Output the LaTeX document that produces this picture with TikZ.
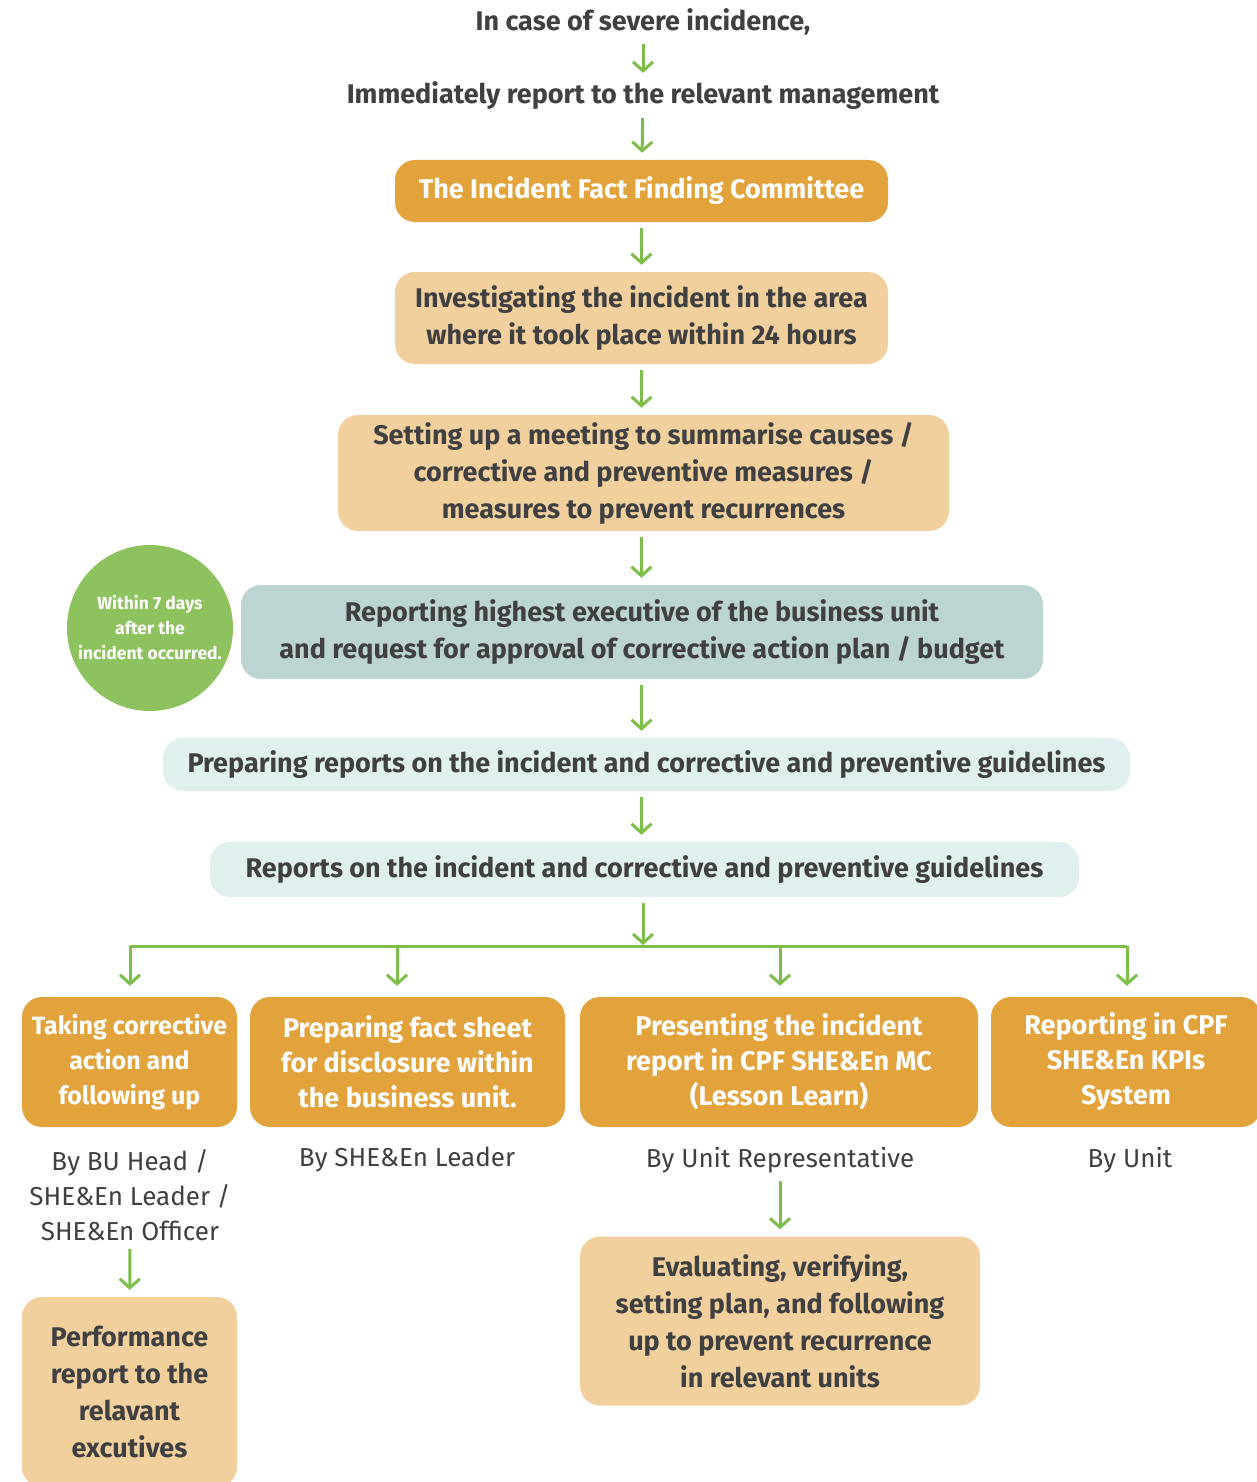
\documentclass[tikz,border=0pt]{standalone}
\usepackage{fontspec}
\setmainfont{Fira Sans}
\usetikzlibrary{arrows.meta,positioning}
\definecolor{BoxOrange}{RGB}{227,163,60}
\definecolor{BoxSand}{RGB}{242,208,158}
\definecolor{BoxSlate}{RGB}{188,212,210}
\definecolor{BoxMist}{RGB}{224,240,238}
\definecolor{LeafGreen}{RGB}{142,194,94}
\definecolor{ArrowGreen}{RGB}{125,190,74}
\definecolor{InkGray}{RGB}{64,64,66}

\begin{document}
\begin{tikzpicture}[x=1pt,y=-1pt,
  box/.style={rectangle,rounded corners=20pt,align=center,inner sep=0pt,font=\fontsize{27}{37}\selectfont\bfseries,text=InkGray},
  hot/.style={box,fill=BoxOrange,text=white},
  task/.style={hot,minimum height=130,font=\fontsize{27}{35}\selectfont\bfseries},
  sand/.style={box,fill=BoxSand},
  slate/.style={box,fill=BoxSlate},
  mist/.style={box,fill=BoxMist},
  head/.style={font=\fontsize{27}{37}\selectfont\bfseries,text=InkGray,align=center,inner sep=2pt},
  note/.style={font=\fontsize{26}{35}\selectfont,text=InkGray,align=center,inner sep=2pt},
  arr/.style={-{Straight Barb[length=9pt,width=20pt]},line width=3pt,draw=ArrowGreen,shorten <=6pt,shorten >=7pt}
]
  \useasboundingbox (0,0) rectangle (1256,1482);
  \fill[white] (0,0) rectangle (1256,1482);

  % main column
  \node[head] (incase) at (643,22) {In case of severe incidence,};
  \node[head] (immed) at (643,96) {Immediately report to the relevant management};
  \node[hot,minimum width=493,minimum height=62] (fact) at (641.5,191) {The Incident Fact Finding Committee};
  \node[sand,minimum width=493,minimum height=92] (invest) at (641.5,318) {Investigating the incident in the area\\where it took place within 24 hours};
  \node[sand,minimum width=611,minimum height=116] (meet) at (643.5,473) {Setting up a meeting to summarise causes /\\corrective and preventive measures /\\measures to prevent recurrences};
  \node[slate,minimum width=802,minimum height=94] (exec) at (642,632) {Reporting highest executive of the business unit\\and request for approval of corrective action plan / budget};
  \node[circle,fill=LeafGreen,minimum size=166,inner sep=0pt,text=white,align=center,font=\fontsize{17.5}{25}\selectfont\bfseries] (days) at (150,628) {Within 7 days\\after the\\incident occurred.};
  \node[mist,minimum width=967,minimum height=53] (prep) at (646.5,764.5) {Preparing reports on the incident and corrective and preventive guidelines};
  \node[mist,minimum width=869,minimum height=55] (rep) at (644.5,869.5) {Reports on the incident and corrective and preventive guidelines};

  % branches
  \node[task,minimum width=215,font=\fontsize{25}{35}\selectfont\bfseries] (act) at (129.5,1062) {Taking corrective\\action and\\following up};
  \node[task,minimum width=315] (sheet) at (407.5,1062) {Preparing fact sheet\\for disclosure within\\the business unit.};
  \node[task,minimum width=398] (pres) at (779,1062) {Presenting the incident\\report in CPF SHE\&En MC\\(Lesson Learn)};
  \node[task,minimum width=270] (kpi) at (1126,1062) {Reporting in CPF\\SHE\&En KPIs\\System};
  \node[note] (byhead) at (130,1195) {By BU Head /\\SHE\&En Leader /\\SHE\&En Officer};
  \node[note] (byleader) at (407,1160) {By SHE\&En Leader};
  \node[note] (byrep) at (780,1160) {By Unit Representative};
  \node[note] (byunit) at (1130,1160) {By Unit};
  \node[sand,minimum width=215,minimum height=190] (perf) at (129.5,1392) {Performance\\report to the\\relavant\\excutives};
  \node[sand,minimum width=400,minimum height=169] (eval) at (780,1321) {Evaluating, verifying,\\setting plan, and following\\up to prevent recurrence\\in relevant units};

  \draw[arr] (incase) -- (immed);
  \draw[arr] (immed) -- (fact);
  \draw[arr] (fact) -- (invest);
  \draw[arr] (invest.south) -- (invest.south |- meet.north);
  \draw[arr] (meet.south -| fact) -- (fact |- exec.north);
  \draw[arr] (exec.south -| fact) -- (fact |- prep.north);
  \draw[arr] (prep.south -| fact) -- (fact |- rep.north);

  \coordinate (hub) at (643,947);
  \coordinate (b1) at (130,946);
  \coordinate (b2) at (397,946);
  \coordinate (b3) at (780,946);
  \coordinate (b4) at (1127,946);
  \draw[arr,shorten >=2pt] (rep.south -| hub) -- (hub);
  \draw[ArrowGreen,line width=3pt] (b1) -- (b4);
  \draw[arr,shorten <=0pt,shorten >=11pt] (b1) -- (b1 |- act.north);
  \draw[arr,shorten <=0pt,shorten >=11pt] (b2) -- (b2 |- sheet.north);
  \draw[arr,shorten <=0pt,shorten >=11pt] (b3) -- (b3 |- pres.north);
  \draw[arr,shorten <=0pt,shorten >=11pt] (b4) -- (b4 |- kpi.north);

  \draw[arr] (byhead) -- (perf);
  \draw[arr] (byrep) -- (eval);
\end{tikzpicture}
\end{document}
